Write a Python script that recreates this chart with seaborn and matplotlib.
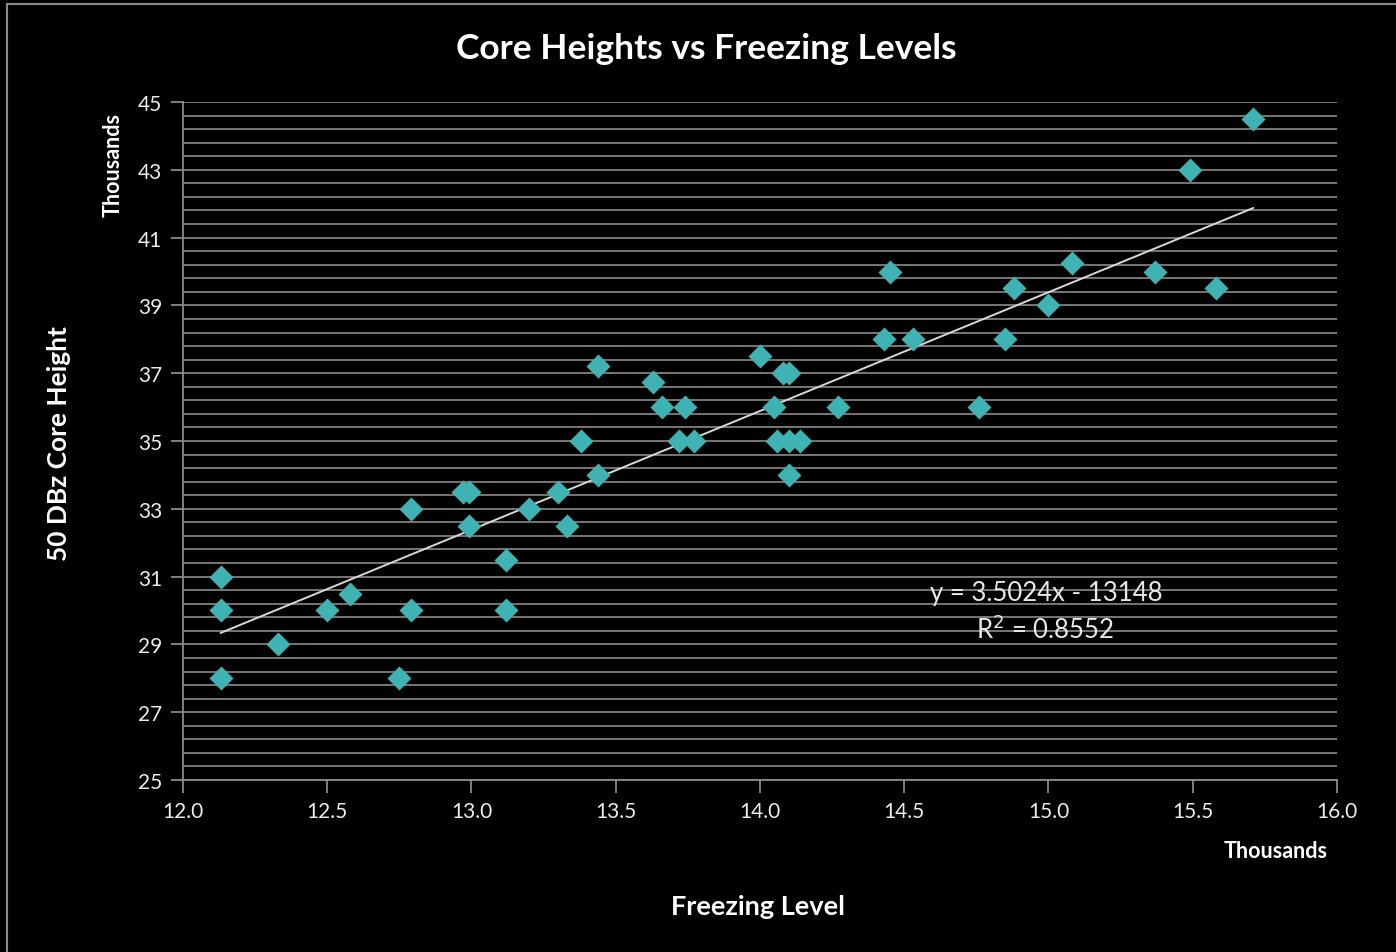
import numpy as np
import pandas as pd
import matplotlib
matplotlib.use("Agg")
import matplotlib.pyplot as plt
from matplotlib.ticker import FixedLocator, MultipleLocator, FormatStrFormatter
from matplotlib.patches import Rectangle
import seaborn as sns

# values, both axes in thousands of feet
freezing_level = [12.13, 12.13, 12.13, 12.33, 12.50, 12.58, 12.75, 12.79, 12.79,
                  12.97, 12.99, 12.99, 13.12, 13.12, 13.20, 13.30, 13.33, 13.38,
                  13.44, 13.44, 13.63, 13.66, 13.74, 13.72, 13.77, 14.00, 14.05,
                  14.06, 14.08, 14.10, 14.10, 14.14, 14.10, 14.27, 14.43, 14.45,
                  14.53, 14.76, 14.85, 14.88, 15.00, 15.08, 15.37, 15.49, 15.58,
                  15.71]
core_height = [31.0, 30.0, 28.0, 29.0, 30.0, 30.5, 28.0, 30.0, 33.0,
               33.5, 33.5, 32.5, 31.5, 30.0, 33.0, 33.5, 32.5, 35.0,
               34.0, 37.2, 36.75, 36.0, 36.0, 35.0, 35.0, 37.5, 36.0,
               35.0, 37.0, 37.0, 35.0, 35.0, 34.0, 36.0, 38.0, 40.0,
               38.0, 36.0, 38.0, 39.5, 39.0, 40.25, 40.0, 43.0, 39.5,
               44.5]

# trendline equation shown on the chart (raw feet)
trend_slope = 3.5024
trend_intercept = -13148
trend_label = "y = 3.5024x - 13148"
r2_label = "R$^2$ = 0.8552"

df = pd.DataFrame({"freezing": freezing_level, "core": core_height})

sns.set_theme(style="dark", rc={
    "figure.facecolor": "black",
    "axes.facecolor": "black",
    "savefig.facecolor": "black",
    "axes.edgecolor": "#8a8a8a",
    "text.color": "white",
    "axes.labelcolor": "white",
    "xtick.color": "#8a8a8a",
    "ytick.color": "#8a8a8a",
})
plt.rcParams["font.family"] = ["Lato", "DejaVu Sans"]

fig = plt.figure(figsize=(13.96, 9.53), dpi=100)
ax = fig.add_axes([0.1311, 0.1805, 0.8266, 0.7114])

# labelled ticks every 2 from 25, grid lines every 0.4
ax.set_ylim(25, 45)
ax.set_xlim(12.0, 16.0)
ax.yaxis.set_major_locator(FixedLocator(np.arange(25, 45.01, 2)))
ax.yaxis.set_minor_locator(FixedLocator(np.arange(25, 45.01, 0.4)))
ax.xaxis.set_major_locator(MultipleLocator(0.5))
ax.yaxis.set_major_formatter(FormatStrFormatter("%d"))
ax.xaxis.set_major_formatter(FormatStrFormatter("%.1f"))
ax.grid(True, axis="y", which="both", color="#808080", linewidth=1.3)
ax.grid(False, axis="x")
ax.set_axisbelow(True)

# trendline from the displayed equation, over the data range
xs = np.array([min(freezing_level), max(freezing_level)])
ys = (trend_slope * xs * 1000 + trend_intercept) / 1000
ax.plot(xs, ys, color="#d8d8d8", linewidth=1.4, zorder=2)

sns.scatterplot(data=df, x="freezing", y="core", ax=ax, marker="D", s=150,
                color="#3fb3b3", linewidth=0, zorder=3)

for side in ["top", "right"]:
    ax.spines[side].set_visible(False)
ax.spines["left"].set_linewidth(1.3)
ax.spines["bottom"].set_linewidth(1.3)
ax.tick_params(axis="both", which="major", direction="out", length=9, width=1.3,
               labelcolor="#ececec", labelsize=15, pad=6, left=True, bottom=True)
ax.tick_params(axis="y", which="minor", length=0)

ax.set_xlabel("")
ax.set_ylabel("")

fig.text(0.506, 0.949, "Core Heights vs Freezing Levels", ha="center", va="center",
         fontsize=25.5, fontweight="bold", color="white")
fig.text(0.543, 0.048, "Freezing Level", ha="center", va="center",
         fontsize=19.5, fontweight="bold", color="white")
fig.text(0.042, 0.535, "50 DBz Core Height", ha="center", va="center", rotation=90,
         fontsize=19, fontweight="bold", color="white")
fig.text(0.081, 0.827, "Thousands", ha="center", va="center", rotation=90,
         fontsize=15.5, fontweight="bold", color="white")
fig.text(0.951, 0.106, "Thousands", ha="right", va="center",
         fontsize=15.5, fontweight="bold", color="white")

ax.text(0.748, 0.277, trend_label, transform=ax.transAxes, ha="center", va="center",
        fontsize=18.5, color="#e8e8e8")
ax.text(0.747, 0.223, r2_label, transform=ax.transAxes, ha="center", va="center",
        fontsize=18.5, color="#e8e8e8")

# outer chart frame
fig.patches.append(Rectangle((7 / 1396, -0.02), 1.05, 1 - 5 / 953 + 0.02,
                             transform=fig.transFigure, fill=False,
                             edgecolor="#8a8a8a", linewidth=1.5))

fig.savefig("out.png", dpi=100)
